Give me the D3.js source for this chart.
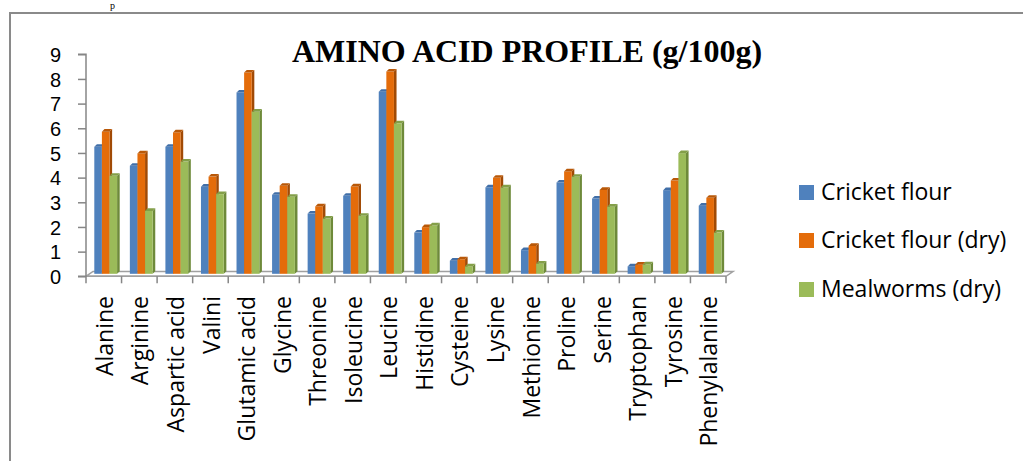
<!DOCTYPE html>
<html>
<head>
<meta charset="utf-8">
<script src="https://cdn.jsdelivr.net/npm/d3@7"></script>
<style>
  html, body { margin: 0; padding: 0; background: #fff; }
  svg { display: block; }
</style>
</head>
<body>
<svg id="chart" width="1023" height="461"></svg>
<script>
// Amino acid content per 100 g
const categories = ["Alanine", "Arginine", "Aspartic acid", "Valini", "Glutamic acid", "Glycine",
  "Threonine", "Isoleucine", "Leucine", "Histidine", "Cysteine", "Lysine", "Methionine",
  "Proline", "Serine", "Tryptophan", "Tyrosine", "Phenylalanine"];
const seriesNames = ["Cricket flour", "Cricket flour (dry)", "Mealworms (dry)"];
const cricketFlour    = [5.15, 4.38, 5.15, 3.53, 7.35, 3.20, 2.44, 3.16, 7.38, 1.67, 0.53, 3.50, 0.96, 3.70, 3.05, 0.30, 3.39, 2.76];
const cricketFlourDry = [5.76, 4.88, 5.73, 3.94, 8.16, 3.57, 2.73, 3.54, 8.20, 1.89, 0.59, 3.89, 1.13, 4.15, 3.40, 0.37, 3.78, 3.08];
const mealwormsDry    = [3.97, 2.55, 4.55, 3.23, 6.57, 3.12, 2.24, 2.35, 6.10, 1.96, 0.30, 3.50, 0.41, 3.93, 2.72, 0.38, 4.89, 1.67];
const yTicks = [0, 1, 2, 3, 4, 5, 6, 7, 8, 9];

const seriesValues = [cricketFlour, cricketFlourDry, mealwormsDry];
const faceColors = ["#4F81BD", "#E46C0A", "#9BBB59"];
const sideColors = ["#36598A", "#A14A05", "#6E8A3A"];
const topColors  = ["#416FA8", "#B95808", "#839F48"];

const svg = d3.select("#chart");
const sans = "'Open Sans', sans-serif";

// frame around the figure
svg.append("path")
  .attr("d", "M10,461 L10,13 L1023,13")
  .attr("fill", "none").attr("stroke", "#8a8a8a").attr("stroke-width", 2);

// end of the text line above the figure
svg.append("text").attr("x", 110).attr("y", 9)
  .attr("font-family", "'Liberation Serif', serif").attr("font-size", 10)
  .attr("fill", "#000").text("p");

const left = 86, right = 726, baseY = 276.3;
const x = d3.scaleBand().domain(categories).range([left, right]).padding(0);
const y = d3.scaleLinear().domain([0, 9]).range([baseY, baseY - 9 * 24.67]);

// depth of the floor and of each column
const floorDx = 7, floorDy = -4.8;
const barShiftX = 2.5, barShiftY = -2.5;
const sideDx = 2.6, sideDy = -2.6;
const groupOffset = 8.3 - barShiftX;
const x1 = d3.scaleBand().domain(d3.range(seriesNames.length)).range([0, 22.8]);

// floor
svg.append("path")
  .attr("d", `M${left},${baseY} L${right},${baseY} L${right + floorDx},${baseY + floorDy} L${left + floorDx},${baseY + floorDy} Z`)
  .attr("fill", "#ffffff").attr("stroke", "#a0a0a0").attr("stroke-width", 1.5);

// columns
const g = svg.append("g");
categories.forEach((cat, i) => {
  seriesValues.forEach((vals, s) => {
    const v = vals[i];
    const x0 = x(cat) + groupOffset + x1(s) + barShiftX;
    const w = x1.bandwidth();
    const top = y(v) + barShiftY;
    const bot = baseY + barShiftY;
    // right side face
    g.append("path")
      .attr("d", `M${x0 + w},${bot} L${x0 + w},${top} L${x0 + w + sideDx},${top + sideDy} L${x0 + w + sideDx},${bot + sideDy} Z`)
      .attr("fill", sideColors[s]);
    // front face
    g.append("rect")
      .attr("x", x0).attr("y", top).attr("width", w).attr("height", bot - top)
      .attr("fill", faceColors[s]);
    // top face
    g.append("path")
      .attr("d", `M${x0},${top} L${x0 + sideDx},${top + sideDy} L${x0 + w + sideDx},${top + sideDy} L${x0 + w},${top} Z`)
      .attr("fill", topColors[s]);
  });
});

// front edge of the floor
svg.append("line").attr("x1", left).attr("x2", right).attr("y1", baseY).attr("y2", baseY)
  .attr("stroke", "#a0a0a0").attr("stroke-width", 1.5);

// value axis
const yAxis = svg.append("g").attr("transform", `translate(${left},0)`)
  .call(d3.axisLeft(y).tickValues(yTicks).tickSize(8).tickPadding(17).tickFormat(d3.format("d")));
yAxis.select(".domain").attr("stroke", "#868686").attr("stroke-width", 1.5).attr("d", `M-8,${y(9)}H0V${baseY}H-8`);
yAxis.selectAll(".tick line").attr("stroke", "#868686").attr("stroke-width", 1.5);
yAxis.selectAll(".tick text").attr("font-family", "'Liberation Sans', Arial, sans-serif")
  .attr("font-size", 20).attr("fill", "#000").attr("dy", "0.36em");

// category axis
const xAxis = svg.append("g").attr("transform", `translate(0,${baseY})`)
  .call(d3.axisBottom(x).tickSize(0).tickFormat(""));
xAxis.select(".domain").remove();
const boundaries = categories.map(c => x(c)).concat([right]);
xAxis.selectAll(".bound").data(boundaries).enter().append("line")
  .attr("x1", d => d).attr("x2", d => d).attr("y1", 0).attr("y2", 7)
  .attr("stroke", "#868686").attr("stroke-width", 1.5);
svg.append("g").selectAll("text").data(categories).enter().append("text")
  .attr("transform", d => `translate(${x(d) + x.bandwidth() / 2 + 1},296) rotate(-90)`)
  .attr("text-anchor", "end").attr("dy", "0.35em")
  .attr("font-family", sans).attr("font-size", 23).attr("fill", "#000")
  .text(d => d);

// title
svg.append("text").attr("x", 527).attr("y", 62).attr("text-anchor", "middle")
  .attr("font-family", "'Liberation Serif', 'Times New Roman', serif").attr("font-weight", "bold")
  .attr("font-size", 32).attr("fill", "#000")
  .text("AMINO ACID PROFILE (g/100g)");

// legend
const legend = svg.append("g");
const legendY = [185, 233, 282];
seriesNames.forEach((name, s) => {
  legend.append("rect").attr("x", 799).attr("y", legendY[s]).attr("width", 15).attr("height", 15)
    .attr("fill", faceColors[s]);
  legend.append("text").attr("x", 821).attr("y", legendY[s] + 15)
    .attr("font-family", sans).attr("font-size", 23).attr("fill", "#000").text(name);
});
</script>
</body>
</html>
